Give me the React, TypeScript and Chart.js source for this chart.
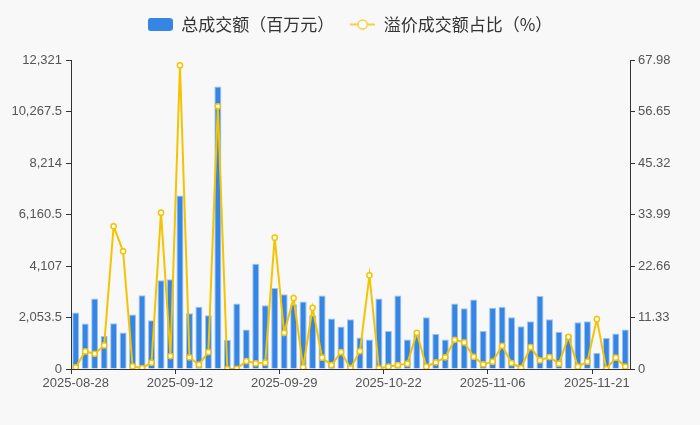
import { useEffect, useRef } from "react"
import Chart from "chart.js/auto"

const dates = [
  "2025-08-28", "2025-08-29",
  "2025-09-01", "2025-09-02", "2025-09-03", "2025-09-04", "2025-09-05",
  "2025-09-08", "2025-09-09", "2025-09-10", "2025-09-11", "2025-09-12",
  "2025-09-15", "2025-09-16", "2025-09-17", "2025-09-18", "2025-09-19",
  "2025-09-22", "2025-09-23", "2025-09-24", "2025-09-25", "2025-09-26",
  "2025-09-29", "2025-09-30",
  "2025-10-09", "2025-10-10", "2025-10-13", "2025-10-14", "2025-10-15",
  "2025-10-16", "2025-10-17", "2025-10-20", "2025-10-21", "2025-10-22",
  "2025-10-23", "2025-10-24", "2025-10-27", "2025-10-28", "2025-10-29",
  "2025-10-30", "2025-10-31",
  "2025-11-03", "2025-11-04", "2025-11-05", "2025-11-06", "2025-11-07",
  "2025-11-10", "2025-11-11", "2025-11-12", "2025-11-13", "2025-11-14",
  "2025-11-17", "2025-11-18", "2025-11-19", "2025-11-20", "2025-11-21",
  "2025-11-24", "2025-11-25", "2025-11-26",
]

// 总成交额（百万元）
const totalAmount = [
  2252, 1815, 2809, 1312, 1828, 1457, 2173, 2941, 1948, 3537, 3577, 6917,
  2226, 2478, 2147, 11263, 1153, 2610, 1577, 4200, 2544, 3233, 2981, 2584,
  2690, 2147, 2928, 2014, 1696, 1988, 1259, 1179, 2809, 1511, 2928, 1179,
  1391, 2067, 1391, 1179, 2610, 2425, 2769, 1511, 2438, 2478, 2067, 1709,
  1908, 2915, 1988, 1484, 1352, 1868, 1908, 636, 1232, 1418, 1577,
]

// 溢价成交额占比（%）
const premiumRatio = [
  0.37, 3.87, 3.36, 5.19, 31.4, 25.9, 0.58, 0.22, 1.39, 34.4, 2.85, 66.8,
  2.56, 0.95, 3.73, 57.8, 0, 0.05, 1.75, 1.24, 1.39, 28.9, 7.97, 15.6,
  0.37, 13.45, 2.49, 0.88, 3.73, 0.15, 3.95, 20.6, 0.15, 0.51, 0.88, 1.17,
  7.97, 0.51, 1.46, 2.56, 6.43, 5.85, 2.7, 1.02, 1.61, 5.12, 1.32, 0.22,
  4.82, 1.9, 2.63, 1.17, 7.09, 0.51, 1.61, 10.96, 0, 2.49, 0.51,
]

const leftTicks = [0, 2053.5, 4107, 6160.5, 8214, 10267.5, 12321]
const rightTicks = [0, 11.33, 22.66, 33.99, 45.32, 56.65, 67.98]
const labelEvery = 11

const BAR_COLOR = "#3585e5"
const LINE_COLOR = "#f5c400"
const AXIS_COLOR = "#333"
const TICK_FONT = { family: "'Liberation Sans', Arial, sans-serif", size: 13 }

// 图例图标：圆角矩形 / 带圆点的线
function makeBarIcon() {
  const c = document.createElement("canvas")
  c.width = 25
  c.height = 13
  const g = c.getContext("2d")!
  g.fillStyle = BAR_COLOR
  g.beginPath()
  g.roundRect(0, 0, 25, 13, 3)
  g.fill()
  return c
}

function makeLineIcon() {
  const c = document.createElement("canvas")
  c.width = 25
  c.height = 13
  const g = c.getContext("2d")!
  g.strokeStyle = "#f7cf45"
  g.lineWidth = 2
  g.beginPath()
  g.moveTo(0, 6.5)
  g.lineTo(25, 6.5)
  g.stroke()
  g.fillStyle = "#fff"
  g.lineWidth = 1.5
  g.beginPath()
  g.arc(12.5, 6.5, 4.6, 0, Math.PI * 2)
  g.fill()
  g.stroke()
  return c
}

export default function App() {
  const chartRef = useRef<HTMLCanvasElement>(null)
  const chartInstance = useRef<Chart | null>(null)

  useEffect(() => {
    document.body.style.margin = "0"
    document.body.style.background = "#f8f8f8"
    if (!chartRef.current) return
    if (chartInstance.current) chartInstance.current.destroy()

    const barIcon = makeBarIcon()
    const lineIcon = makeLineIcon()

    chartInstance.current = new Chart(chartRef.current, {
      type: "bar",
      data: {
        labels: dates,
        datasets: [
          {
            type: "bar",
            label: "总成交额（百万元）",
            data: totalAmount,
            yAxisID: "y",
            backgroundColor: BAR_COLOR,
            borderColor: "rgba(150,190,240,0.9)",
            borderWidth: 1,
            borderSkipped: "bottom",
            barPercentage: 0.74,
            categoryPercentage: 1,
            order: 1,
          },
          {
            type: "line",
            label: "溢价成交额占比（%）",
            data: premiumRatio,
            yAxisID: "y1",
            borderColor: LINE_COLOR,
            borderWidth: 2,
            tension: 0,
            pointRadius: 2.6,
            pointBorderWidth: 1.5,
            pointBackgroundColor: "#fff",
            pointBorderColor: LINE_COLOR,
            order: 0,
          },
        ],
      },
      options: {
        animation: false,
        responsive: true,
        maintainAspectRatio: false,
        layout: { padding: 0 },
        plugins: {
          tooltip: { enabled: false },
          legend: {
            position: "top",
            align: "center",
            padding: 5,
            labels: {
              usePointStyle: true,
              pointStyleWidth: 25,
              boxHeight: 13,
              padding: 16,
              color: "#333",
              font: { family: "'Noto Sans CJK SC', sans-serif", size: 17 },
              generateLabels: () => [
                {
                  text: "总成交额（百万元）",
                  pointStyle: barIcon,
                  fillStyle: BAR_COLOR,
                  strokeStyle: BAR_COLOR,
                  lineWidth: 0,
                  hidden: false,
                  datasetIndex: 0,
                  fontColor: "#333",
                },
                {
                  text: "溢价成交额占比（%）",
                  pointStyle: lineIcon,
                  fillStyle: "#fff",
                  strokeStyle: LINE_COLOR,
                  lineWidth: 0,
                  hidden: false,
                  datasetIndex: 1,
                  fontColor: "#333",
                },
              ],
            },
          },
        },
        scales: {
          x: {
            type: "category",
            offset: true,
            border: { display: true, color: AXIS_COLOR, width: 1 },
            grid: {
              display: true,
              offset: true,
              drawOnChartArea: false,
              drawTicks: true,
              tickLength: 5,
              color: (ctx: any) =>
                ctx.index !== undefined && ctx.index % labelEvery === 0 ? AXIS_COLOR : "transparent",
            },
            ticks: {
              autoSkip: false,
              maxRotation: 0,
              minRotation: 0,
              padding: 2,
              color: "#555",
              font: TICK_FONT,
              callback: (_v: any, i: number) => (i % labelEvery === 0 ? dates[i] : ""),
            },
            afterFit: (scale: any) => {
              scale.height = 56
            },
          },
          y: {
            type: "linear",
            position: "left",
            min: 0,
            max: leftTicks[leftTicks.length - 1],
            border: { display: true, color: AXIS_COLOR, width: 1 },
            grid: { drawOnChartArea: false, tickLength: 5, color: AXIS_COLOR },
            afterBuildTicks: (scale: any) => {
              scale.ticks = leftTicks.map((v) => ({ value: v }))
            },
            ticks: {
              padding: 4,
              color: "#555",
              font: TICK_FONT,
              callback: (v: any) => Number(v).toLocaleString("en-US", { maximumFractionDigits: 2 }),
            },
            afterFit: (scale: any) => {
              scale.width = 71
            },
          },
          y1: {
            type: "linear",
            position: "right",
            min: 0,
            max: rightTicks[rightTicks.length - 1],
            border: { display: true, color: AXIS_COLOR, width: 1 },
            grid: { drawOnChartArea: false, tickLength: 5, color: AXIS_COLOR },
            afterBuildTicks: (scale: any) => {
              scale.ticks = rightTicks.map((v) => ({ value: v }))
            },
            ticks: {
              padding: 3,
              color: "#555",
              font: TICK_FONT,
              callback: (v: any) => String(v),
            },
            afterFit: (scale: any) => {
              scale.width = 70
            },
          },
        },
      },
      plugins: [
        {
          id: "legendHeight",
          beforeInit(chart: any) {
            const fit = chart.legend.fit
            chart.legend.fit = function () {
              fit.bind(chart.legend)()
              this.height = 60
            }
          },
        },
      ],
    })

    return () => {
      if (chartInstance.current) {
        chartInstance.current.destroy()
        chartInstance.current = null
      }
    }
  }, [])

  return (
    <div style={{ width: 700, height: 425, background: "#f8f8f8", position: "relative" }}>
      <canvas ref={chartRef}></canvas>
    </div>
  )
}
